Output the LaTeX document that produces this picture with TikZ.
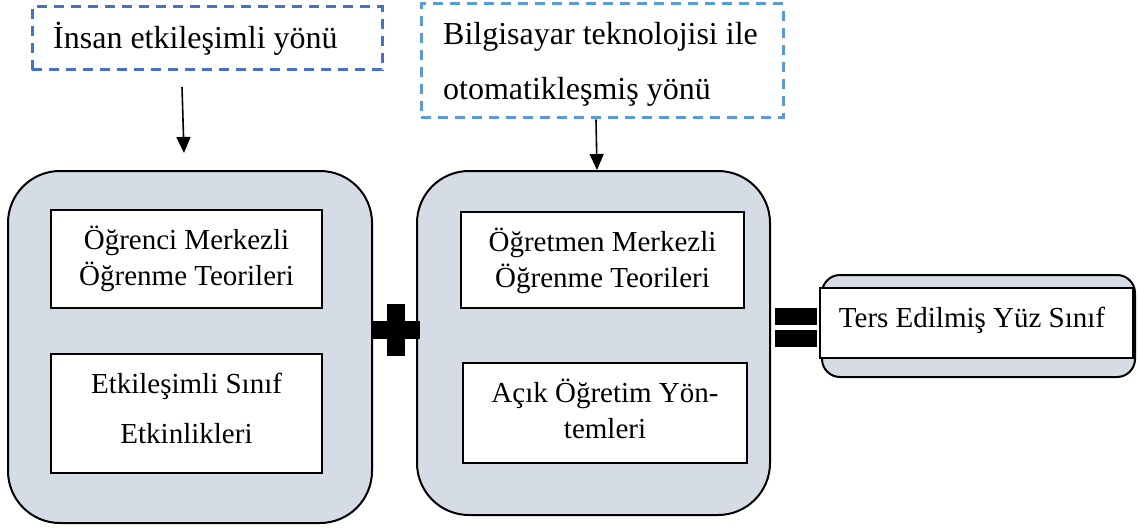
\documentclass[tikz,border=0pt]{standalone}
\usepackage{fontspec}
\setmainfont{Liberation Serif}
\usetikzlibrary{arrows.meta}
\definecolor{boxgray}{HTML}{D6DCE5}
\definecolor{dashA}{HTML}{4472C4}
\definecolor{dashB}{HTML}{5B9BD5}
\tikzset{
  bigbox/.style={draw=black, line width=2pt, fill=boxgray, rounded corners=52pt, inner sep=0pt},
  inbox/.style={draw=black, line width=2pt, fill=white, inner sep=0pt},
  dbox/.style={line width=3pt, dash pattern=on 10pt off 7pt, fill=white, inner sep=0pt},
  txt/.style={inner sep=0pt, font=\fontsize{29}{35}\selectfont},
  toptxt/.style={inner sep=0pt, font=\fontsize{32}{38}\selectfont},
  arr/.style={line width=1.6pt, -{Triangle[length=16pt,width=14pt]}},
  sym/.style={fill=black, draw=none, inner sep=0pt}
}
\begin{document}
\begin{tikzpicture}[x=1pt,y=-1pt]
\useasboundingbox (0,0) rectangle (1140,532);
% dashed top boxes
\node[dbox, draw=dashA, minimum width=350pt, minimum height=63pt] (d1) at (207,38.5) {};
\node[toptxt, anchor=base west] (d1t) at (53,49) {İnsan etkileşimli yönü};
\node[dbox, draw=dashB, minimum width=362pt, minimum height=114pt] (d2) at (602,61) {};
\node[toptxt, anchor=base west] (d2t1) at (443,45) {Bilgisayar teknolojisi ile};
\node[toptxt, anchor=base west] (d2t2) at (443,100) {otomatikleşmiş yönü};
% big boxes
\node[bigbox, minimum width=364pt, minimum height=352pt] (L) at (190,347) {};
\node[bigbox, minimum width=353pt, minimum height=344pt] (R) at (593.5,343) {};
% inner boxes left
\node[inbox, minimum width=271pt, minimum height=98pt] (b1) at (186.5,259) {};
\node[txt, anchor=base] (b1t1) at (186.5,249) {Öğrenci Merkezli};
\node[txt, anchor=base] (b1t2) at (186.5,285) {Öğrenme Teorileri};
\node[inbox, minimum width=271pt, minimum height=119pt] (b2) at (186.5,413.5) {};
\node[txt, anchor=base] (b2t1) at (186.5,393) {Etkileşimli Sınıf};
\node[txt, anchor=base] (b2t2) at (186.5,443) {Etkinlikleri};
% inner boxes right
\node[inbox, minimum width=283pt, minimum height=96pt] (b3) at (602.5,260) {};
\node[txt, anchor=base] (b3t1) at (602.5,251) {Öğretmen Merkezli};
\node[txt, anchor=base] (b3t2) at (602.5,287) {Öğrenme Teorileri};
\node[inbox, minimum width=284pt, minimum height=100pt] (b4) at (605,413) {};
\node[txt, anchor=base] (b4t1) at (605,402) {Açık Öğretim Yön-};
\node[txt, anchor=base] (b4t2) at (605,438) {temleri};
% arrows
\coordinate (a1s) at (182,87);
\coordinate (a1e) at (184,153);
\draw[arr] (a1s) -- (a1e);
\draw[arr] ([xshift=-6pt]d2.south) -- ([xshift=3.5pt]R.north);
% plus
\node[sym, minimum width=18pt, minimum height=52pt] (pv) at (396,330) {};
\node[sym, minimum width=48pt, minimum height=18pt] (ph) at (396,330) {};
% equals
\node[sym, minimum width=42pt, minimum height=17pt] (e1) at (796,316.5) {};
\node[sym, minimum width=42pt, minimum height=17pt] (e2) at (796,338.5) {};
% result
\node[draw=black, line width=2pt, fill=boxgray, rounded corners=18pt, minimum width=313pt, minimum height=102pt, inner sep=0pt] (F) at (978.5,326) {};
\node[inbox, minimum width=313pt, minimum height=70pt] (Fi) at (976.5,323) {};
\node[txt, anchor=base] (Ft) at (972,327) {Ters Edilmiş Yüz Sınıf};
\end{tikzpicture}
\end{document}
